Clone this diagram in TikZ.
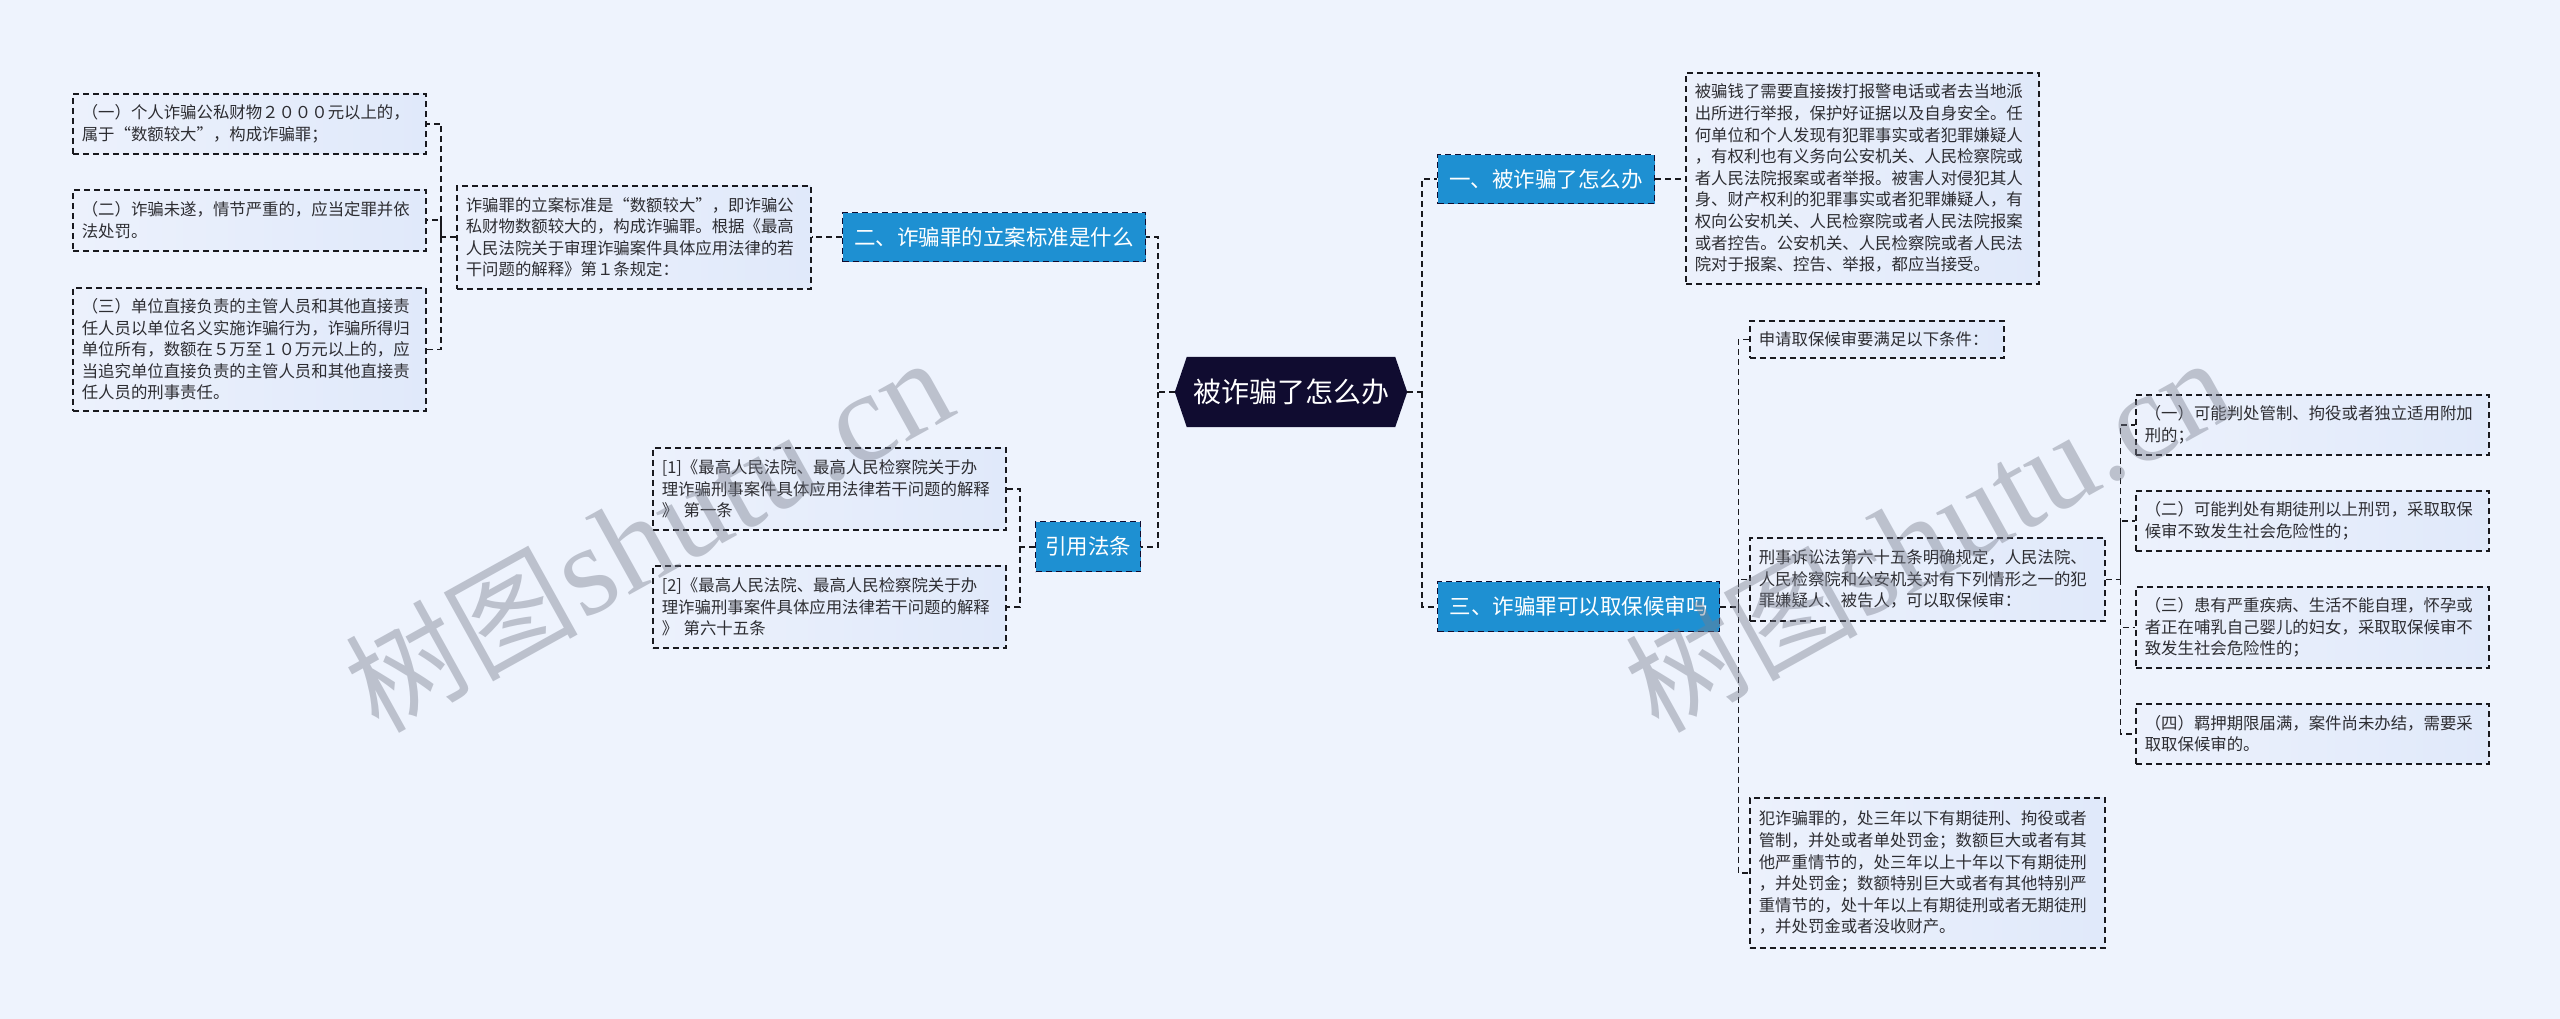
\documentclass[tikz,border=0pt]{standalone}
\usepackage{fontspec}
\setmainfont{Liberation Serif}
\newfontfamily\cjk{Noto Sans CJK SC}
\pgfdeclarelayer{back}
\pgfsetlayers{back,main}
\definecolor{bgc}{RGB}{238,243,253}
\definecolor{boxl}{RGB}{236,241,252}
\definecolor{boxr}{RGB}{224,233,250}
\definecolor{blueb}{RGB}{30,144,210}
\definecolor{rootc}{RGB}{16,12,48}
\definecolor{linec}{RGB}{25,25,30}
\definecolor{txtc}{RGB}{45,45,50}
\definecolor{wmc}{RGB}{120,125,140}
\tikzset{
  x=1pt, y=-1pt,
  conn/.style={draw=linec, line width=1.6pt, dash pattern=on 6pt off 4pt},
  txtbox/.style={draw=linec, line width=1.6pt, dash pattern=on 6pt off 4pt,
    left color=boxl, right color=boxr, inner xsep=9pt, inner ysep=0pt,
    align=left, anchor=north west, text=txtc,
    font=\cjk\fontsize{16.4}{21.6}\selectfont},
  bluebox/.style={draw=rootc, line width=1.4pt, dash pattern=on 6pt off 4pt,
    fill=blueb, text=white, inner sep=0pt, anchor=north west,
    font=\cjk\fontsize{21.5}{24}\selectfont},
  wmark/.style={rotate=29, text=wmc, opacity=0.42, inner sep=0pt}
}
\begin{document}
\begin{tikzpicture}
\useasboundingbox (0,0) rectangle (2560,1019);
\begin{pgfonlayer}{back}
\fill[bgc] (0,0) rectangle (2560,1019);
\end{pgfonlayer}

% root
\node (root) at (1291,392) [minimum width=232pt, minimum height=70pt, inner sep=0pt,
  text=white, font=\cjk\fontsize{28}{32}\selectfont] {被诈骗了怎么办};
\begin{pgfonlayer}{back}
\fill[rootc] (root.west) -- ([xshift=12pt]root.north west) -- ([xshift=-12pt]root.north east)
  -- (root.east) -- ([xshift=-12pt]root.south east) -- ([xshift=12pt]root.south west) -- cycle;
\end{pgfonlayer}

% left branch nodes
\node[bluebox, minimum width=303pt, minimum height=49pt] (B2) at (842,212) {二、诈骗罪的立案标准是什么};
\node[bluebox, minimum width=105pt, minimum height=50pt] (BR) at (1035,521) {引用法条};

\node[txtbox, text width=336pt, minimum height=103pt] (D2) at (456,185)
 {诈骗罪的立案标准是“数额较大”，即诈骗公\\私财物数额较大的，构成诈骗罪。根据《最高\\人民法院关于审理诈骗案件具体应用法律的若\\干问题的解释》第１条规定：};

\node[txtbox, text width=335pt, minimum height=60pt] (L1) at (72,93)
 {（一）个人诈骗公私财物２０００元以上的，\\属于“数额较大”，构成诈骗罪；};
\node[txtbox, text width=335pt, minimum height=61pt] (L2) at (72,189)
 {（二）诈骗未遂，情节严重的，应当定罪并依\\法处罚。};
\node[txtbox, text width=335pt, minimum height=123pt] (L3) at (72,287)
 {（三）单位直接负责的主管人员和其他直接责\\任人员以单位名义实施诈骗行为，诈骗所得归\\单位所有，数额在５万至１０万元以上的，应\\当追究单位直接负责的主管人员和其他直接责\\任人员的刑事责任。};

\node[txtbox, text width=335pt, minimum height=82pt] (R1) at (652,447)
 {[1]《最高人民法院、最高人民检察院关于办\\理诈骗刑事案件具体应用法律若干问题的解释\\》 第一条};
\node[txtbox, text width=335pt, minimum height=82pt] (R2) at (652,565)
 {[2]《最高人民法院、最高人民检察院关于办\\理诈骗刑事案件具体应用法律若干问题的解释\\》 第六十五条};

% right branch nodes
\node[bluebox, minimum width=217pt, minimum height=49pt] (B1) at (1437,154) {一、被诈骗了怎么办};
\node[bluebox, minimum width=282pt, minimum height=50pt] (B3) at (1437,581) {三、诈骗罪可以取保候审吗};

\node[txtbox, text width=335pt, minimum height=211pt] (D1) at (1685,72)
 {被骗钱了需要直接拨打报警电话或者去当地派\\出所进行举报，保护好证据以及自身安全。任\\何单位和个人发现有犯罪事实或者犯罪嫌疑人\\，有权利也有义务向公安机关、人民检察院或\\者人民法院报案或者举报。被害人对侵犯其人\\身、财产权利的犯罪事实或者犯罪嫌疑人，有\\权向公安机关、人民检察院或者人民法院报案\\或者控告。公安机关、人民检察院或者人民法\\院对于报案、控告、举报，都应当接受。};

\node[txtbox, text width=236pt, minimum height=37pt] (C1) at (1749,320)
 {申请取保候审要满足以下条件：};
\node[txtbox, text width=337pt, minimum height=83pt] (C2) at (1749,537)
 {刑事诉讼法第六十五条明确规定，人民法院、\\人民检察院和公安机关对有下列情形之一的犯\\罪嫌疑人、被告人，可以取保候审：};
\node[txtbox, text width=337pt, minimum height=150pt] (C3) at (1749,797)
 {犯诈骗罪的，处三年以下有期徒刑、拘役或者\\管制，并处或者单处罚金；数额巨大或者有其\\他严重情节的，处三年以上十年以下有期徒刑\\，并处罚金；数额特别巨大或者有其他特别严\\重情节的，处十年以上有期徒刑或者无期徒刑\\，并处罚金或者没收财产。};

\node[txtbox, text width=335pt, minimum height=60pt] (I1) at (2135,394)
 {（一）可能判处管制、拘役或者独立适用附加\\刑的；};
\node[txtbox, text width=335pt, minimum height=60pt] (I2) at (2135,490)
 {（二）可能判处有期徒刑以上刑罚，采取取保\\候审不致发生社会危险性的；};
\node[txtbox, text width=335pt, minimum height=81pt] (I3) at (2135,586)
 {（三）患有严重疾病、生活不能自理，怀孕或\\者正在哺乳自己婴儿的妇女，采取取保候审不\\致发生社会危险性的；};
\node[txtbox, text width=335pt, minimum height=60pt] (I4) at (2135,703)
 {（四）羁押期限届满，案件尚未办结，需要采\\取取保候审的。};

% elbow coordinates
\coordinate (kL) at ([xshift=-17pt]root.west);
\coordinate (kR) at ([xshift=15pt]root.east);
\coordinate (k2) at ([xshift=-15pt]D2.west);
\coordinate (kRef) at ([xshift=-15pt]BR.west);
\coordinate (k3) at ([xshift=18pt]B3.east);
\coordinate (kc) at ([xshift=15pt]C2.east);

% connectors
\draw[conn] (root.west) -- (kL) |- (B2.east);
\draw[conn] (kL) |- (BR.east);
\draw[conn] (root.east) -- (kR) |- (B1.west);
\draw[conn] (kR) |- (B3.west);

\draw[conn] (B2.west) -- (B2.west -| D2.east);
\draw[conn] (D2.west) -- (k2) |- (L1.east);
\draw[conn] (k2) |- (L2.east);
\draw[conn] (k2) |- (L3.east);

\draw[conn] (BR.west) -- (kRef) |- (R1.east);
\draw[conn] (kRef) |- (R2.east);

\draw[conn] (B1.east) -- (B1.east -| D1.west);

\draw[conn] (B3.east) -- (k3) |- (C1.west);
\draw[conn] (k3) |- (C2.west);
\draw[conn] (k3) |- (C3.west);

\draw[conn] (C2.east) -- (kc) |- (I1.west);
\draw[conn] (kc) |- (I2.west);
\draw[conn] (kc) |- (I3.west);
\draw[conn] (kc) |- (I4.west);

% watermarks
\node[wmark] (wm1) at (648,535) {{\cjk\fontsize{116}{120}\selectfont 树图} {\fontsize{128}{130}\selectfont shutu.cn}};
\node[wmark] (wm2) at (1928,535) {{\cjk\fontsize{116}{120}\selectfont 树图} {\fontsize{128}{130}\selectfont shutu.cn}};
\end{tikzpicture}
\end{document}
